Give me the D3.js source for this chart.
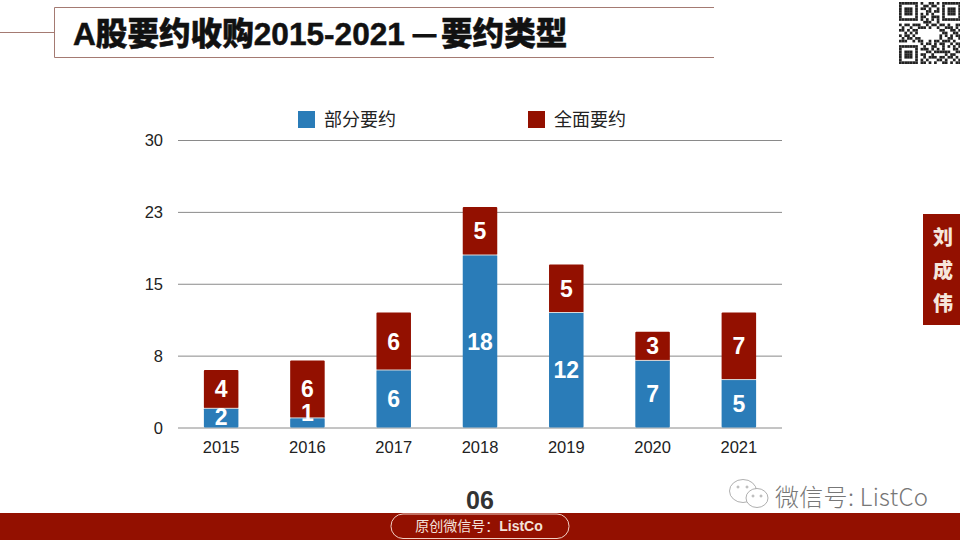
<!DOCTYPE html>
<html><head><meta charset="utf-8">
<script src="https://cdn.jsdelivr.net/npm/d3@7/dist/d3.min.js"></script>
<style>html,body{margin:0;padding:0;background:#fff}svg{display:block}</style>
</head><body><svg id="c" width="960" height="540"></svg>
<script>
const years=["2015","2016","2017","2018","2019","2020","2021"];
const partial=[2,1,6,18,12,7,5];
const full=[4,6,6,5,5,3,7];
const tickValues=[0,7.5,15,22.5,30];
const tickLabels=["0","8","15","23","30"];
const seriesNames=["部分要约","全面要约"];
const titleParts=["A股要约收购2015-2021","—","要约类型"];
const sideName=["刘","成","伟"];
const qrRows=[
"11111110100110101111111",
"10000010011011001000001",
"10111010110100101011101",
"10111010001101101011101",
"10111010101010001011101",
"10000010110011101000001",
"11111110101010101111111",
"00000000011100100000000",
"10110111001011011010011",
"01001001110100100111010",
"11010110000000011001101",
"00101010000000001100110",
"10110100000000010101011",
"01011011000000010011001",
"11100101100101101110100",
"00000000101101011001011",
"11111110010011001010101",
"10000010111010101000110",
"10111010001101111110011",
"10111010110010000101100",
"10111010010111011011010",
"10000010101000110100101",
"11111110110101001101011"];
const red="#931000",blue="#2a7cb8",sans="'Liberation Sans','Noto Sans CJK SC',sans-serif";
const svg=d3.select("#c");

// header frame
const frame="#a47a72";
svg.append("line").attr("x1",0).attr("x2",54).attr("y1",32.5).attr("y2",32.5).attr("stroke",frame);
svg.append("path").attr("d","M714 7.5H54.5V57.5H714").attr("fill","none").attr("stroke",frame);
const titleFont={"font-family":sans,"font-weight":900,"fill":"#111","stroke":"#111","stroke-width":0.5};
const tp=(x0,yy,size,s)=>{const t=svg.append("text").attr("x",x0).attr("y",yy).attr("font-size",size).text(s);
  Object.entries(titleFont).forEach(([k,v])=>t.attr(k,v));return t;};
tp(73,45,31.6,titleParts[0]);
tp(413,42,23,titleParts[1]).attr("stroke-width",1);
tp(441,45,31.6,titleParts[2]);

// QR
const qr=d3.scaleBand().domain(d3.range(qrRows.length)).range([0,62]);
const qrG=svg.append("g").attr("transform","translate(899,2)");
qrRows.forEach((r,j)=>{qrG.selectAll(null).data(r.split("").map((v,i)=>({v,i})).filter(d=>d.v==="1")).join("rect")
  .attr("x",d=>qr(d.i)).attr("y",qr(j)).attr("width",qr.bandwidth()).attr("height",qr.bandwidth()).attr("fill","#222");});

// chart
const x=d3.scaleBand().domain(years).range([178,782]).paddingInner(0.6).paddingOuter(0.3);
const y=d3.scaleLinear().domain([0,30]).range([427.5,140]);
const axisG=svg.append("g").attr("transform","translate(178,0)")
 .call(d3.axisLeft(y).tickValues(tickValues).tickSize(-604).tickFormat((d,i)=>tickLabels[i]));
axisG.select(".domain").remove();
axisG.selectAll(".tick line").attr("stroke","#8a8a8a").attr("stroke-width",1);
axisG.selectAll(".tick text").attr("x",-15).attr("dy","0.36em").attr("font-family",sans).attr("font-size",16.5).attr("fill","#222");
const xg=svg.append("g").attr("transform","translate(0,427.5)").call(d3.axisBottom(x).tickSize(0));
xg.select(".domain").remove();
xg.selectAll("text").attr("dy",0).attr("y",25).attr("font-family",sans).attr("font-size",16.5).attr("fill","#222");

const bars=svg.append("g");
const rows=years.map((yr,i)=>({yr,p:partial[i],f:full[i]}));
bars.selectAll(".p").data(rows).join("rect").attr("x",d=>x(d.yr)).attr("width",x.bandwidth())
  .attr("y",d=>y(d.p)).attr("height",d=>y(0)-y(d.p)).attr("rx",1).attr("fill",blue);
bars.selectAll(".f").data(rows).join("rect").attr("x",d=>x(d.yr)).attr("width",x.bandwidth())
  .attr("y",d=>y(d.p+d.f)).attr("height",d=>y(d.p)-y(d.p+d.f)).attr("rx",1).attr("fill",red);
bars.selectAll(".sep").data(rows).join("line").attr("x1",d=>x(d.yr)).attr("x2",d=>x(d.yr)+x.bandwidth())
  .attr("y1",d=>y(d.p)).attr("y2",d=>y(d.p)).attr("stroke","#d9d9d9").attr("stroke-width",1);
const lab=(acc,mid)=>bars.selectAll(null).data(rows).join("text").attr("x",d=>x(d.yr)+x.bandwidth()/2)
  .attr("y",mid).attr("dy","0.36em").attr("text-anchor","middle").attr("font-family",sans)
  .attr("font-weight",700).attr("font-size",23).attr("fill","#fff").text(acc);
lab(d=>d.p,d=>y(d.p/2)+(d.p===1?-10:0)+(d.p===2?-1:0));
lab(d=>d.f,d=>y(d.p+d.f/2));

// legend
const leg=svg.append("g");
[[298,blue],[528,red]].forEach(([lx,c],i)=>{
  leg.append("rect").attr("x",lx).attr("y",111).attr("width",17).attr("height",17).attr("fill",c);
  leg.append("text").attr("x",lx+26).attr("y",126).attr("font-family",sans).attr("font-size",18).attr("fill","#222").text(seriesNames[i]);
});

// side tab
svg.append("rect").attr("x",923).attr("y",214).attr("width",37).attr("height",111).attr("fill",red);
sideName.forEach((s,i)=>svg.append("text").attr("x",943).attr("y",238+33*i).attr("dy","0.36em").attr("text-anchor","middle")
  .attr("font-family","'Noto Sans CJK SC'").attr("font-weight",900).attr("font-size",20).attr("fill","#f6e6dc").text(s));

// footer
svg.append("rect").attr("x",0).attr("y",513).attr("width",960).attr("height",27).attr("fill",red);
svg.append("text").attr("x",480).attr("y",509).attr("text-anchor","middle").attr("font-family",sans).attr("font-weight",700)
  .attr("font-size",25).attr("fill","#333").text("06");
svg.append("rect").attr("x",391).attr("y",514).attr("width",178).attr("height",24.5).attr("rx",12).attr("fill","none").attr("stroke","#f2cfc4").attr("stroke-width",1);
const foot=svg.append("text").attr("x",479).attr("y",531).attr("text-anchor","middle").attr("font-family",sans).attr("font-size",14).attr("fill","#f3e2da");
foot.append("tspan").text("原创微信号：");
foot.append("tspan").attr("font-weight",700).text("ListCo");

// watermark
const wm=svg.append("g").attr("fill","#fff").attr("stroke","#9a9a9a").attr("stroke-width",0.8);
wm.append("ellipse").attr("cx",743).attr("cy",491).attr("rx",13.5).attr("ry",11.5);
wm.append("ellipse").attr("cx",757).attr("cy",498).attr("rx",11).attr("ry",9.5);
wm.selectAll(null).data([[738,487],[747,487],[753,496],[761,496]]).join("circle")
  .attr("cx",d=>d[0]).attr("cy",d=>d[1]).attr("r",1);
svg.append("text").attr("x",775).attr("y",506).attr("font-family","'Noto Sans CJK SC'").attr("font-weight",300).attr("font-size",24)
  .attr("letter-spacing",0.3).attr("fill","#777").text("微信号: ListCo");
</script></body></html>
